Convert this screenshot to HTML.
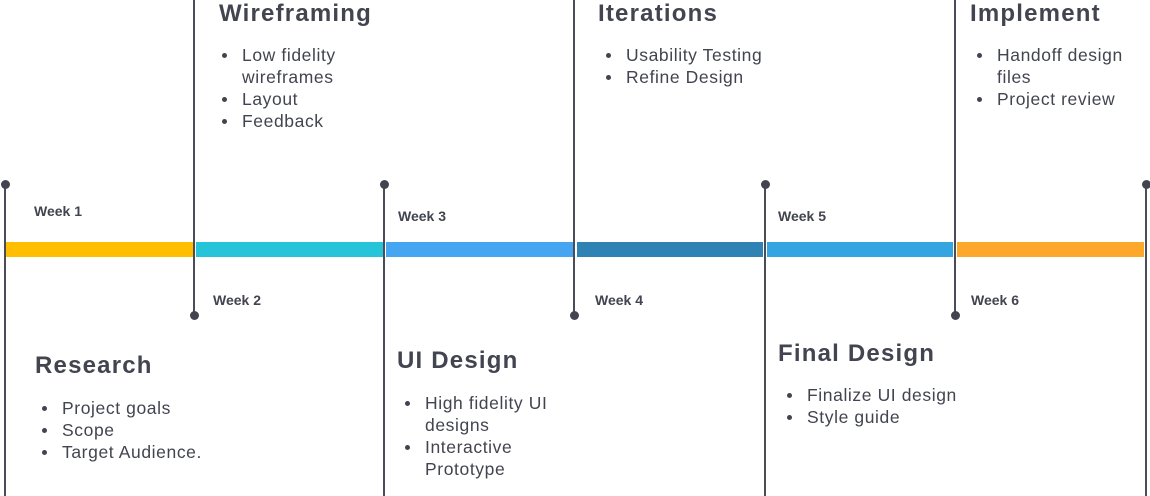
<!DOCTYPE html>
<html><head><meta charset="utf-8"><style>
body{margin:0;width:1150px;height:496px;position:relative;background:#fff;overflow:hidden;font-family:"Liberation Sans",sans-serif;color:#42444f}
.v{position:absolute;width:2px;background:#4a4c57}
.d{position:absolute;width:9px;height:9px;border-radius:50%;background:#42444f}
.s{position:absolute;top:242px;height:15px}
.w{position:absolute;font-weight:bold;font-size:14px;line-height:16px}
.t{position:absolute;font-weight:bold;font-size:24px;line-height:28px;letter-spacing:1.2px;white-space:nowrap}
ul{position:absolute;margin:0;padding:0 0 0 27px;font-size:17.5px;line-height:22px;letter-spacing:0.6px;list-style:none;white-space:nowrap}
li{position:relative}
li:before{content:"";position:absolute;left:-20px;top:9px;width:5px;height:5px;border-radius:50%;background:#42444f}
</style></head><body>
<div class="s" style="left:6px;width:187px;background:#ffbf00"></div>
<div class="s" style="left:196px;width:187px;background:#26c4d8"></div>
<div class="s" style="left:386px;width:187px;background:#45a5f0"></div>
<div class="s" style="left:577px;width:186px;background:#2e82b4"></div>
<div class="s" style="left:767px;width:186px;background:#35a5e2"></div>
<div class="s" style="left:957px;width:187px;background:#fda82a"></div>

<div class="v" style="left:4px;top:184px;height:312px"></div><div class="d" style="left:0.5px;top:179.5px"></div>
<div class="v" style="left:193px;top:0;height:315px"></div><div class="d" style="left:189.5px;top:310.5px"></div>
<div class="v" style="left:383px;top:184px;height:312px"></div><div class="d" style="left:379.5px;top:179.5px"></div>
<div class="v" style="left:573px;top:0;height:315px"></div><div class="d" style="left:569.5px;top:310.5px"></div>
<div class="v" style="left:764px;top:184px;height:312px"></div><div class="d" style="left:760.5px;top:179.5px"></div>
<div class="v" style="left:954px;top:0;height:315px"></div><div class="d" style="left:950.5px;top:310.5px"></div>
<div class="v" style="left:1145px;top:184px;height:312px"></div><div class="d" style="left:1141.5px;top:179.5px"></div>

<div class="w" style="left:34px;top:203px">Week 1</div>
<div class="w" style="left:213px;top:292px">Week 2</div>
<div class="w" style="left:398px;top:208px">Week 3</div>
<div class="w" style="left:595px;top:292px">Week 4</div>
<div class="w" style="left:778px;top:208px">Week 5</div>
<div class="w" style="left:971px;top:292px">Week 6</div>

<div class="t" style="left:219px;top:0px">Wireframing</div>
<ul style="left:215px;top:44px"><li>Low fidelity<br>wireframes</li><li>Layout</li><li>Feedback</li></ul>
<div class="t" style="left:598px;top:0px">Iterations</div>
<ul style="left:599px;top:44px"><li>Usability Testing</li><li>Refine Design</li></ul>
<div class="t" style="left:970px;top:0px">Implement</div>
<ul style="left:970px;top:44px"><li>Handoff design<br>files</li><li>Project review</li></ul>

<div class="t" style="left:35px;top:352px">Research</div>
<ul style="left:35px;top:397px"><li>Project goals</li><li>Scope</li><li>Target Audience.</li></ul>
<div class="t" style="left:397px;top:347px">UI Design</div>
<ul style="left:398px;top:392px"><li>High fidelity UI<br>designs</li><li>Interactive<br>Prototype</li></ul>
<div class="t" style="left:778px;top:340px">Final Design</div>
<ul style="left:780px;top:384px"><li>Finalize UI design</li><li>Style guide</li></ul>
</body></html>
